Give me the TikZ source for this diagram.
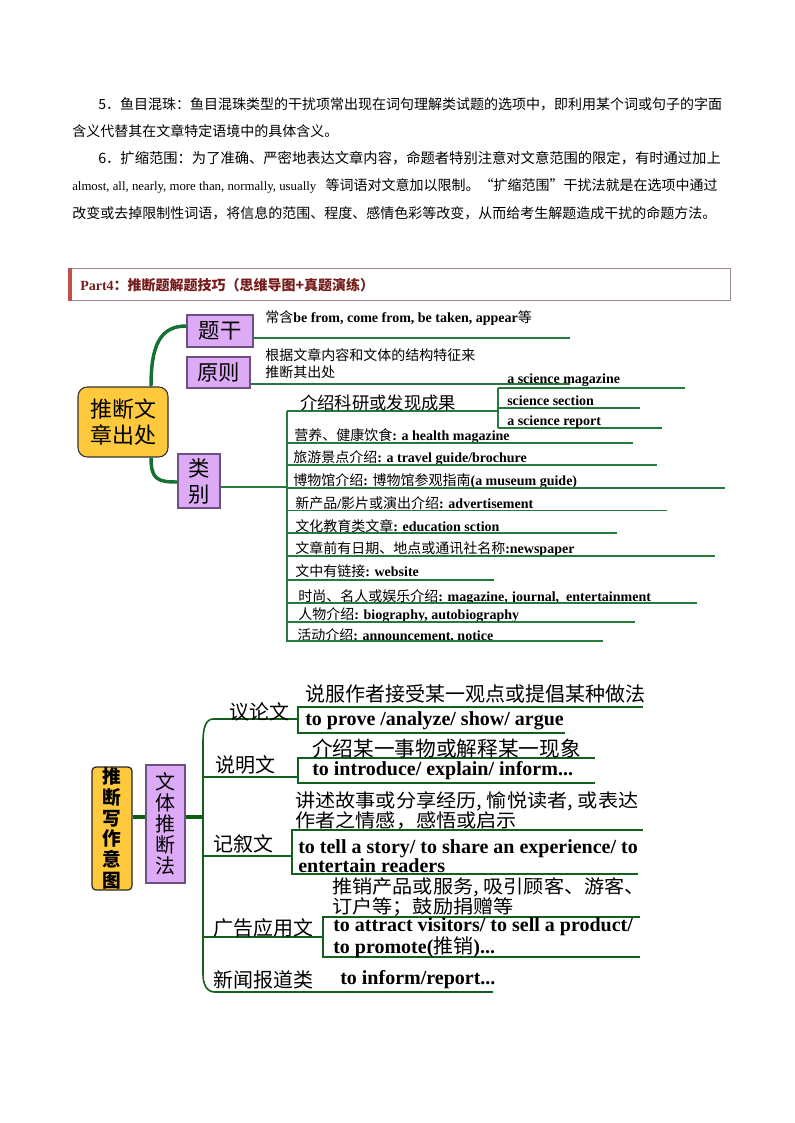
\documentclass[tikz,border=0pt]{standalone}
\usepackage{fontspec}
\setmainfont{Liberation Serif}
\newfontfamily\cjk{Noto Sans CJK SC}
\newfontfamily\cjkwide[FakeStretch=1.08]{Noto Sans CJK SC}
\newcommand\zh[1]{{\cjk\mdseries #1}}
\usetikzlibrary{calc}
\definecolor{gline}{RGB}{38,122,58}
\definecolor{gthick}{RGB}{22,112,52}
\definecolor{dline}{RGB}{20,95,30}
\definecolor{dthick}{RGB}{10,95,20}
\definecolor{ybox}{RGB}{255,201,62}
\definecolor{pbox}{RGB}{221,170,245}
\definecolor{pborder}{RGB}{110,80,130}
\definecolor{hdrred}{RGB}{118,28,28}
\definecolor{barred}{RGB}{192,80,77}
\definecolor{hdrborder}{RGB}{160,140,135}
\tikzset{
  txt/.style={anchor=west, inner sep=0pt},
  para/.style={txt, font=\cjk\fontsize{10.5}{12}\selectfont},
  tone/.style={txt, font=\fontsize{10.5}{12}\selectfont\bfseries},
  czh/.style={txt, font=\cjk\fontsize{10.5}{12}\selectfont},
  ttwo/.style={txt, font=\fontsize{15}{18}\selectfont\bfseries},
  cfif/.style={txt, font=\cjk\fontsize{15}{18}\selectfont},
  cfrt/.style={txt, font=\cjkwide\fontsize{14}{16}\selectfont},
  gl/.style={draw=gline, line width=1.3pt},
  gthk/.style={draw=gthick, line width=2.6pt},
  dl/.style={draw=dline, line width=1.2pt},
  dthk/.style={draw=dthick, line width=3pt},
  cbox/.style={draw=black!80, line width=0.8pt, fill=ybox, rounded corners=7pt, inner sep=0pt, align=center, font=\cjk\fontsize{16.5}{20}\selectfont},
  pbone/.style={draw=pborder, line width=0.8pt, fill=pbox, inner sep=0pt, align=center, font=\cjk\fontsize{16}{19.5}\selectfont},
}
\begin{document}
\begin{tikzpicture}[x=0.75pt,y=-0.75pt]
\useasboundingbox (0,0) rectangle (794,1123);
\fill[white] (0,0) rectangle (794,1123);

% ---------- paragraph ----------
\node[para] (pa) at (98,104) {5．鱼目混珠：鱼目混珠类型的干扰项常出现在词句理解类试题的选项中，即利用某个词或句子的字面};
\node[para] (pb) at (72,131) {含义代替其在文章特定语境中的具体含义。};
\node[para, font=\cjk\fontsize{10.72}{12}\selectfont] (pc) at (98,158) {6．扩缩范围：为了准确、严密地表达文章内容，命题者特别注意对文意范围的限定，有时通过加上};
\node[para] (pd) at (72,186) {{\rmfamily\fontsize{9.6}{12}\selectfont almost, all, nearly, more than, normally, usually}\hspace{7pt}等词语对文意加以限制。“扩缩范围”干扰法就是在选项中通过};
\node[para] (pe) at (72,213) {改变或去掉限制性词语，将信息的范围、程度、感情色彩等改变，从而给考生解题造成干扰的命题方法。};

% ---------- header ----------
\node[draw=hdrborder, line width=0.75pt, minimum width=496.5pt, minimum height=24pt, inner sep=0pt] (hdrbox) at (399,284) {};
\fill[barred] (hdrbox.north west) rectangle ([xshift=3pt]hdrbox.south west);
\node[txt, font=\fontsize{10.5}{12}\selectfont\bfseries, text=hdrred] (hdrtxt) at (80,285) {Part4{\cjk：推断题解题技巧（思维导图+真题演练）}};

% ---------- mind map 1 ----------
\node[cbox, minimum width=67.5pt, minimum height=52.5pt] (c1) at (123,422) {推断文\\章出处};
\node[pbone, minimum width=49.5pt, minimum height=24pt] (tg) at (220,331) {题干};
\node[pbone, minimum width=47.25pt, minimum height=23.25pt] (yz) at (218.5,372.5) {原则};
\node[pbone, minimum width=31.5pt, minimum height=40.5pt] (lb) at (199,481) {类\\别};

\draw[gthk] ([xshift=21pt]c1.north) .. controls +(0,-42) and +(-26,0) .. ([yshift=3.75pt]tg.west);
\draw[gthk] ([xshift=21pt]c1.south) .. controls +(0,22) and +(-20,0) .. ([yshift=-0.75pt]lb.west);

\node[tone] (tgT) at (265,318) {\zh{常含}be from, come from, be taken, appear\zh{等}};
\coordinate (tgE) at (570,338);
\draw[gl] ([yshift=-5.25pt]tg.east) -- (tgE);

\node[czh] (yzA) at (265,355) {根据文章内容和文体的结构特征来};
\node[czh] (yzB) at (265,372) {推断其出处};
\coordinate (yzE) at (570,384);
\draw[gl] ([yshift=-8.625pt]yz.east) -- (yzE);

\coordinate (vb) at (287,487);
\draw[gl] ([yshift=-4.5pt]lb.east) -- (vb);
\coordinate (vT) at (287,411);
\coordinate (vB) at (287,642);
\draw[gl] (vT) -- (vB);

% science sub-bracket
\coordinate (sT) at (498,388);
\coordinate (sB) at (498,428);
\draw[gl] (sT) -- (sB);
\draw[gl] (vT) -- (sT |- vT);
\coordinate (sa) at (685,388);
\coordinate (sb) at (640,408);
\coordinate (sc) at (662,428);
\draw[gl] (sT) -- (sa);
\draw[gl] (sT |- sb) -- (sb);
\draw[gl] (sB) -- (sc);
\node[tone] (sat) at (507,380) {a science magazine};
\node[tone] (sbt) at (507,401) {science section};
\node[tone] (sct) at (507,422) {a science report};
\node[txt, font=\cjk\fontsize{13}{14}\selectfont] (ia) at (300,403) {介绍科研或发现成果};

% items
\node[tone] (ib) at (294,436) {\zh{营养、健康饮食}: a health magazine};
\coordinate (ub) at (633,443); \draw[gl] (vT |- ub) -- (ub);
\node[tone] (ic) at (293,458) {\zh{旅游景点介绍}: a travel guide/brochure};
\coordinate (uc) at (657,465); \draw[gl] (vT |- uc) -- (uc);
\node[tone] (id) at (293,481) {\zh{博物馆介绍}: \zh{博物馆参观指南}(a museum guide)};
\coordinate (ud) at (725,488); \draw[gl] (vT |- ud) -- (ud);
\node[tone] (ie) at (295,503) {\zh{新产品}/\zh{影片或演出介绍}: advertisement};
\coordinate (ue) at (667,510.5); \draw[gl] (vT |- ue) -- (ue);
\node[tone] (iff) at (295,526) {\zh{文化教育类文章}: education sction};
\coordinate (uf) at (617,533); \draw[gl] (vT |- uf) -- (uf);
\node[tone] (ig) at (295,549) {\zh{文章前有日期、地点或通讯社名称}:newspaper};
\coordinate (ug) at (715,556); \draw[gl] (vT |- ug) -- (ug);
\node[tone] (ih) at (295,571) {\zh{文中有链接}: website};
\coordinate (uh) at (494,580); \draw[gl] (vT |- uh) -- (uh);
\node[tone] (ii) at (298,597) {\zh{时尚、名人或娱乐介绍}: magazine, journal,\ \ entertainment};
\coordinate (ui) at (697,603); \draw[gl] (vT |- ui) -- (ui);
\node[tone] (ij) at (298,615) {\zh{人物介绍}: biography, autobiography};
\coordinate (uj) at (635,622); \draw[gl] (vT |- uj) -- (uj);
\node[tone] (ik) at (297,636) {\zh{活动介绍}: announcement, notice};
\coordinate (uk) at (603,641); \draw[gl] (vT |- uk) -- (uk);

% ---------- mind map 2 ----------
\node[draw=black!85, line width=0.9pt, fill=ybox, rounded corners=3pt, inner sep=0pt, minimum width=30pt, minimum height=92.25pt, align=center, font=\cjk\bfseries\fontsize{14}{15.5}\selectfont] (y2) at (112,828.5) {推\\断\\写\\作\\意\\图};
\node[draw=pborder, line width=0.8pt, fill=pbox, inner sep=0pt, minimum width=29.25pt, minimum height=88.5pt, align=center, font=\cjk\fontsize{15}{15.75}\selectfont] (p2) at (165.5,824) {文\\体\\推\\断\\法};
\coordinate (j) at (203,817);
\draw[dthk] (y2.east |- j) -- (p2.west |- j);
\draw[dthk] (p2.east |- j) -- (j);

% bracket
\coordinate (bT) at (213,719);
\coordinate (bB) at (215,992);
\coordinate (nE) at (493,992);
\coordinate (aL) at (298,719);
\draw[dl] (aL) -- (bT) .. controls (206,719) and (203,728) .. (203,741) -- (203,974) .. controls (203,985) and (207,992) .. (bB) -- (nE);

% 议论文
\coordinate (a1) at (643,707); \coordinate (a2) at (298,707); \coordinate (a3) at (298,733); \coordinate (a4) at (565,733);
\draw[dl] (a1) -- (a2) -- (a3) -- (a4);
\node[cfif] (yl) at (229,712) {议论文};
\node[cfif] (yla) at (305,694) {说服作者接受某一观点或提倡某种做法};
\node[ttwo] (ylb) at (305,721) {to prove /analyze/ show/ argue};

% 说明文
\coordinate (b1) at (595,758); \coordinate (b2) at (298,758); \coordinate (b3) at (298,783); \coordinate (b4) at (595,783);
\draw[dl] (b1) -- (b2) -- (b3) -- (b4);
\coordinate (bm) at (298,777);
\draw[dl] (bm -| j) -- (bm);
\node[cfif] (sm) at (215,765) {说明文};
\node[cfif, font=\cjk\fontsize{15.5}{18}\selectfont] (sma) at (312,749) {介绍某一事物或解释某一现象};
\node[ttwo] (smb) at (312,771) {to introduce/ explain/ inform...};

% 记叙文
\coordinate (c1a) at (643,830); \coordinate (c2a) at (292,830); \coordinate (c3a) at (292,874); \coordinate (c4a) at (638,874);
\draw[dl] (c1a) -- (c2a) -- (c3a) -- (c4a);
\coordinate (cm) at (292,856);
\draw[dl] (cm -| j) -- (cm);
\node[cfrt] (jxa) at (295,801) {讲述故事或分享经历,\hspace{3.5pt}愉悦读者,\hspace{3.5pt}或表达};
\node[cfrt] (jxb) at (295,820.5) {作者之情感，感悟或启示};
\node[cfif] (jx) at (213,844) {记叙文};
\node[ttwo] (jxc) at (298,849) {to tell a story/ to share an experience/ to};
\node[ttwo] (jxd) at (298,866) {entertain readers};

% 广告应用文
\coordinate (d1) at (640,917); \coordinate (d2) at (323,917); \coordinate (d3) at (323,957); \coordinate (d4) at (640,957);
\draw[dl] (d1) -- (d2) -- (d3) -- (d4);
\coordinate (dm) at (323,937);
\draw[dl] (dm -| j) -- (dm);
\node[cfrt] (gga) at (332,887.5) {推销产品或服务,\hspace{3.5pt}吸引顾客、游客、};
\node[cfrt] (ggb) at (332,907) {订户等；鼓励捐赠等};
\node[cfif] (gg) at (213,928) {广告应用文};
\node[ttwo] (ggc) at (333,927) {to attract visitors/ to sell a product/};
\node[ttwo] (ggd) at (333,947) {to promote(\zh{推销})...};

% 新闻报道类
\node[cfif] (xw) at (213,980) {新闻报道类};
\node[ttwo] (xwa) at (340,980) {to inform/report...};
\end{tikzpicture}
\end{document}
